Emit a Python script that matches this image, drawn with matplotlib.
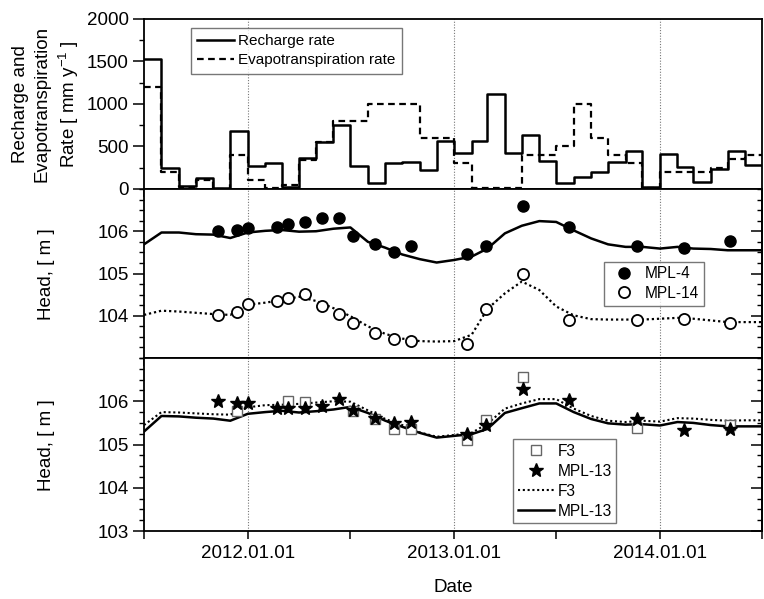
import pandas as pd
import matplotlib
matplotlib.use('Agg')
import matplotlib.pyplot as plt
import matplotlib.dates as mdates
from matplotlib.ticker import MultipleLocator, FuncFormatter

plt.rcParams['font.family'] = ['Liberation Sans', 'DejaVu Sans']
plt.rcParams['mathtext.default'] = 'regular'
plt.rcParams['axes.linewidth'] = 1.3

# monthly rates (mm/y), Jul 2011 .. Jun 2014
month_edges = pd.date_range('2011-07-01', '2014-07-01', freq='MS')
recharge = [1530, 250, 30, 130, 10, 680,
            265, 300, 20, 360, 555, 750, 265, 66, 304, 320, 226, 570,
            420, 570, 1120, 420, 630, 330, 70, 140, 195, 318, 446, 20,
            415, 258, 80, 235, 446, 285]
evapo = [1200, 200, 25, 105, 5, 400,
         100, 10, 50, 345, 555, 800, 800, 1000, 1000, 1000, 600, 600,
         310, 10, 10, 10, 400, 400, 500, 1000, 600, 400, 300, 10,
         200, 200, 200, 245, 350, 400]

# observation dates (same for all wells)
obs_dates = pd.to_datetime([
    '2011-11-10', '2011-12-13', '2012-01-02', '2012-02-22', '2012-03-12',
    '2012-04-11', '2012-05-11', '2012-06-10', '2012-07-05', '2012-08-14',
    '2012-09-17', '2012-10-17', '2013-01-23', '2013-02-27', '2013-05-03',
    '2013-07-23', '2013-11-21', '2014-02-12', '2014-05-06'])
mpl4_obs = [106.01, 106.02, 106.08, 106.10, 106.18, 106.22, 106.31, 106.31, 105.89, 105.69,
            105.50, 105.66, 105.45, 105.66, 106.60, 106.10, 105.66, 105.61, 105.76]
mpl14_obs = [104.01, 104.09, 104.28, 104.34, 104.43, 104.51, 104.22, 104.05, 103.83, 103.59,
             103.46, 103.41, 103.32, 104.16, 105.00, 103.91, 103.91, 103.93, 103.83]
mpl13_obs = [106.00, 105.97, 105.95, 105.85, 105.85, 105.85, 105.89, 106.06, 105.79, 105.61,
             105.50, 105.53, 105.24, 105.45, 106.28, 106.02, 105.58, 105.34, 105.36]
f3_dates = pd.to_datetime([
    '2011-12-13', '2012-03-12', '2012-04-11', '2012-07-05', '2012-08-14', '2012-09-17',
    '2012-10-17', '2013-01-23', '2013-02-27', '2013-05-03', '2013-11-21', '2014-05-06'])
f3_obs = [105.77, 106.00, 105.99, 105.77, 105.58, 105.36,
          105.36, 105.11, 105.57, 106.56, 105.38, 105.45]

# simulated heads, monthly output Jul 2011 .. Jul 2014
sim_dates = month_edges
mpl4_sim = [105.69, 105.97, 105.97, 105.93, 105.92, 105.84, 105.97, 106.01, 106.03, 105.99,
            106.00, 106.06, 106.09, 105.75, 105.61, 105.45, 105.34, 105.26, 105.32, 105.40,
            105.59, 105.95, 106.13, 106.24, 106.22, 106.02, 105.83, 105.69, 105.63, 105.63,
            105.59, 105.63, 105.59, 105.58, 105.55, 105.55, 105.55]
mpl14_sim = [104.02, 104.12, 104.10, 104.07, 104.04, 104.02, 104.26, 104.31, 104.37, 104.45,
             104.35, 104.18, 103.99, 103.75, 103.57, 103.46, 103.40, 103.39, 103.40, 103.55,
             104.16, 104.53, 104.81, 104.61, 104.22, 104.01, 103.92, 103.91, 103.91, 103.91,
             103.93, 103.95, 103.93, 103.89, 103.85, 103.85, 103.85]
f3_sim = [105.45, 105.75, 105.74, 105.72, 105.70, 105.69, 105.86, 105.91, 105.92, 105.94,
          105.97, 106.00, 105.99, 105.79, 105.59, 105.45, 105.28, 105.18, 105.22, 105.27,
          105.48, 105.83, 105.95, 106.05, 106.05, 105.83, 105.66, 105.55, 105.52, 105.55,
          105.53, 105.61, 105.60, 105.57, 105.55, 105.56, 105.56]
mpl13_sim = [105.30, 105.66, 105.65, 105.62, 105.60, 105.55, 105.71, 105.75, 105.78, 105.74,
             105.77, 105.81, 105.87, 105.73, 105.55, 105.41, 105.27, 105.16, 105.20, 105.24,
             105.36, 105.73, 105.84, 105.95, 105.95, 105.75, 105.59, 105.49, 105.46, 105.47,
             105.44, 105.52, 105.50, 105.45, 105.42, 105.42, 105.42]

year_lines = pd.to_datetime(['2012-01-01', '2013-01-01', '2014-01-01'])
x_start, x_end = pd.Timestamp('2011-07-01'), pd.Timestamp('2014-07-01')

fs = 13.5
fig = plt.figure(figsize=(7.64, 5.99), dpi=100)
ax1 = fig.add_axes([0.1885, 0.6845, 0.8089, 0.2838])
ax2 = fig.add_axes([0.1885, 0.4023, 0.8089, 0.2822])
ax3 = fig.add_axes([0.1885, 0.1135, 0.8089, 0.2888])


def date_label(x, pos):
    d = mdates.num2date(x)
    return d.strftime('%Y.%m.%d') if d.month == 1 else ''


for ax in (ax1, ax2, ax3):
    ax.set_xlim(x_start, x_end)
    ax.xaxis.set_major_locator(mdates.MonthLocator(bymonth=[1, 7]))
    ax.xaxis.set_major_formatter(FuncFormatter(date_label))
    for d in year_lines:
        ax.axvline(d, color='#777777', lw=0.8, ls=(0, (1, 1.5)), zorder=0)
    ax.tick_params(axis='x', direction='out', length=6, width=1.1, labelsize=fs, pad=4)
    ax.tick_params(axis='y', which='major', direction='out', length=8, width=1.1,
                   labelsize=fs, pad=3)
    ax.tick_params(axis='y', which='minor', direction='out', length=3.5, width=1.0)

ax1.tick_params(axis='x', labelbottom=False)
ax2.tick_params(axis='x', labelbottom=False)

# top panel: rates
ax1.step(month_edges, recharge + [recharge[-1]], where='post', color='black', lw=1.8,
         label='Recharge rate')
ax1.step(month_edges, evapo + [evapo[-1]], where='post', color='black', lw=1.6,
         ls=(0, (3, 2)), label='Evapotranspiration rate')
ax1.set_ylim(0, 2000)
ax1.set_yticks([0, 500, 1000, 1500, 2000])
ax1.yaxis.set_minor_locator(MultipleLocator(250))
leg = ax1.legend(loc='upper left', bbox_to_anchor=(0.076, 0.947), borderaxespad=0,
                 fontsize=11, frameon=True, fancybox=False, edgecolor='#555555',
                 handlelength=2.4, handletextpad=0.3, borderpad=0.4, labelspacing=0.35)
leg.get_frame().set_linewidth(1.0)

# middle panel: MPL-4 / MPL-14
ax2.plot(sim_dates, mpl4_sim, color='black', lw=1.8)
ax2.plot(sim_dates, mpl14_sim, color='black', lw=1.6, ls=(0, (1, 1.3)))
ax2.plot(obs_dates, mpl4_obs, 'o', color='black', ms=8, label='MPL-4')
ax2.plot(obs_dates, mpl14_obs, 'o', mfc='white', mec='black', mew=1.3, ms=8,
         label='MPL-14')
ax2.set_ylim(103, 107)
ax2.set_yticks([104, 105, 106])
ax2.yaxis.set_minor_locator(MultipleLocator(0.25))
leg = ax2.legend(loc='upper left', bbox_to_anchor=(0.744, 0.571), borderaxespad=0,
                 fontsize=11.2, frameon=True, fancybox=False, edgecolor='#555555',
                 handlelength=2.0, handletextpad=0.35, borderpad=0.3, labelspacing=0.3,
                 numpoints=1)
leg.get_frame().set_linewidth(1.0)

# bottom panel: F3 / MPL-13
ax3.plot(f3_dates, f3_obs, 's', mfc='white', mec='#666666', mew=1.0, ms=6.5,
         label='F3', zorder=3)
ax3.plot(obs_dates, mpl13_obs, '*', color='black', ms=10.5, label='MPL-13', zorder=4)
ax3.plot(sim_dates, f3_sim, color='black', lw=1.5, ls=(0, (1, 1.3)), label='F3')
ax3.plot(sim_dates, mpl13_sim, color='black', lw=1.8, label='MPL-13')
ax3.set_ylim(103, 107)
ax3.set_yticks([103, 104, 105, 106])
ax3.yaxis.set_minor_locator(MultipleLocator(0.25))
leg = ax3.legend(loc='upper left', bbox_to_anchor=(0.597, 0.532), borderaxespad=0,
                 fontsize=11.2, frameon=True, fancybox=False, edgecolor='#555555',
                 handlelength=2.35, handletextpad=0.2, borderpad=0.3, labelspacing=0.32,
                 numpoints=1)
leg.get_frame().set_linewidth(1.0)
ax3.set_xlabel('Date', fontsize=fs, labelpad=12)

# inward ticks on the right side of the head panels
for ax, ticks in ((ax2, [104, 105, 106]), (ax3, [103, 104, 105, 106])):
    sec = ax.secondary_yaxis('right')
    sec.set_yticks(ticks)
    sec.yaxis.set_minor_locator(MultipleLocator(0.25))
    sec.tick_params(axis='y', which='major', direction='in', length=8, width=1.1,
                    labelright=False)
    sec.tick_params(axis='y', which='minor', direction='in', length=3.5, width=1.0)

fig.text(0.061, 0.826, 'Recharge and\nEvapotranspiration\nRate [ mm y$^{-1}$ ]',
         rotation=90, ha='center', va='center', fontsize=fs, linespacing=1.35,
         multialignment='center')
fig.text(0.061, 0.5426, 'Head, [ m ]', rotation=90, ha='center', va='center', fontsize=fs)
fig.text(0.061, 0.2571, 'Head, [ m ]', rotation=90, ha='center', va='center', fontsize=fs)

fig.savefig('out.png', dpi=100)
